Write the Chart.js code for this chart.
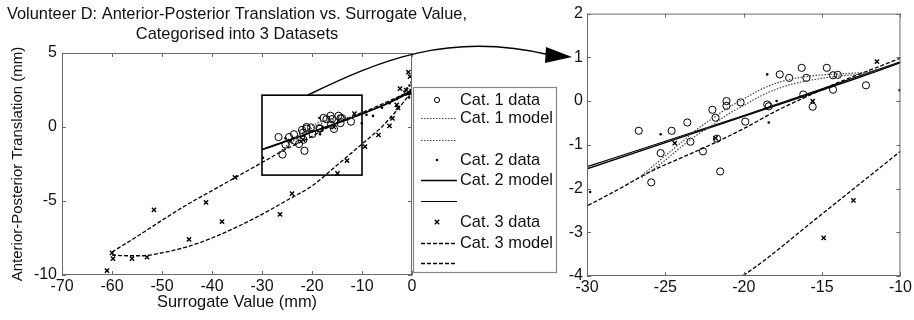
<!DOCTYPE html>
<html>
<head>
<meta charset="utf-8">
<script src="https://cdn.jsdelivr.net/npm/chart.js@4/dist/chart.umd.min.js"></script>
<style>
  html, body { margin: 0; padding: 0; background: #fff; width: 914px; height: 320px; overflow: hidden; }
  canvas { position: absolute; top: 0; }
  #c1 { left: 0; }
  #c2 { left: 560px; }
  #ov { left: 0; pointer-events: none; }
</style>
</head>
<body>
<canvas id="c1" width="560" height="320"></canvas>
<canvas id="c2" width="354" height="320"></canvas>
<canvas id="ov" width="914" height="320"></canvas>
<script>
// ---------- data ----------
const titleLines = ["Volunteer D: Anterior-Posterior Translation vs. Surrogate Value,", "Categorised into 3 Datasets"];
const xAxisTitle = "Surrogate Value (mm)";
const yAxisTitle = "Anterior-Posterior Translation (mm)";
const legendLabels = ["Cat. 1 data", "Cat. 1 model", "", "Cat. 2 data", "Cat. 2 model", "", "Cat. 3 data", "Cat. 3 model", ""];

const mainXTicks = [-70, -60, -50, -40, -30, -20, -10, 0];
const mainYTicks = [-10, -5, 0, 5];
const zoomXTicks = [-30, -25, -20, -15, -10];
const zoomYTicks = [-4, -3, -2, -1, 0, 1, 2];
const zoomBoxX = [-30, -10];
const zoomBoxY = [-3.25, 2.15];

// Cat. 1 data (circles)
const cat1X = [-26.7, -25.9, -25.3, -24.6, -23.6, -23.4, -22.6, -22.0, -21.8, -21.7, -21.5, -21.1, -21.1, -20.2, -19.9, -18.5, -18.4, -17.7, -17.1, -16.3, -16.2, -16.0, -15.6, -14.7, -14.3, -14.3, -14.0, -12.2];
const cat1Y = [-0.68, -1.86, -1.19, -0.68, -0.49, -0.93, -1.15, -0.20, -0.38, -0.86, -1.61, 0.00, -0.11, -0.03, -0.47, -0.08, -0.12, 0.61, 0.53, 0.76, 0.15, 0.53, -0.13, 0.76, 0.59, 0.26, 0.60, 0.36];
// Cat. 1 models (dotted)
const cat1ModelAX = [-26.5, -25, -24, -23, -22, -21, -20, -19, -18, -17, -16, -15, -14, -13, -12, -11.5];
const cat1ModelAY = [-1.70, -1.25, -0.95, -0.65, -0.40, -0.15, 0.05, 0.25, 0.40, 0.50, 0.56, 0.60, 0.62, 0.64, 0.67, 0.72];
const cat1ModelBX = [-26.5, -25, -24, -23, -22, -21, -20, -19, -18, -17, -16, -15, -14, -13, -12, -11.5];
const cat1ModelBY = [-1.75, -1.35, -1.05, -0.78, -0.55, -0.30, -0.10, 0.10, 0.26, 0.38, 0.46, 0.52, 0.57, 0.60, 0.64, 0.69];

// Cat. 2 data (dots)
const cat2X = [-29.8, -25.3, -18.5, -18.4, -17.9, -10.05, -9.1, -7.8, -6.0, -4.5, -3.0, -2.0, -1.5, -1.2, -1.0, -0.8, -0.6, -0.5, -0.3, -0.2, -0.1];
const cat2Y = [-2.08, -0.76, 0.61, -0.49, 0.0, 0.25, 0.82, 0.75, 1.30, 1.60, 1.90, 2.10, 2.40, 2.20, 2.60, 2.25, 2.00, 2.80, 2.50, 2.30, 3.00];
// Cat. 2 models (solid)
const cat2ModelAX = [-30, -25, -20, -15, -10, -5, 0];
const cat2ModelAY = [-1.55, -0.95, -0.35, 0.25, 0.88, 1.60, 2.50];
const cat2ModelBX = [-30, -25, -20, -15, -10, -5, 0];
const cat2ModelBY = [-1.50, -0.92, -0.33, 0.28, 0.90, 1.55, 2.40];

// Cat. 3 data (crosses)
const cat3X = [-61, -60, -59.8, -56, -53, -51.6, -44.6, -41.2, -38, -35.4, -26.4, -24.4, -24, -21.8, -15.6, -14.9, -13, -11.5, -9.4, -6.7, -4.5, -3.9, -3.05, -2.8, -2.4, -1.2, -0.73, -0.5, -0.4];
const cat3Y = [-9.7, -8.5, -8.9, -8.9, -8.8, -5.6, -7.6, -5.1, -6.4, -3.4, -5.9, -0.96, -4.5, -0.85, 0.0, -3.13, -2.27, 0.9, -1.33, -0.54, 0.07, 0.59, 1.5, 1.3, 2.6, 2.5, 3.7, 2.3, 3.4];
// Cat. 3 models (dashed)
const cat3ModelAX = [-60, -55, -50, -45, -40, -35, -30, -28, -26, -24, -22, -20, -18, -16, -14, -12, -10, -8, -6, -4, -2, 0];
const cat3ModelAY = [-8.45, -7.40, -6.30, -5.25, -4.30, -3.35, -2.40, -2.02, -1.62, -1.30, -0.98, -0.63, -0.24, 0.10, 0.42, 0.70, 0.98, 1.25, 1.55, 1.85, 2.15, 2.45];
const cat3ModelBX = [-60, -57, -54, -50, -45, -40, -35, -30, -25, -20, -15, -10, -8, -6, -4, -2, 0];
const cat3ModelBY = [-8.65, -8.70, -8.70, -8.50, -8.10, -7.50, -6.75, -5.90, -4.95, -3.98, -2.58, -1.15, -0.58, 0.02, 0.75, 1.55, 2.40];

// ---------- helpers ----------
const FONT = "'Liberation Sans', Arial, sans-serif";
const zip = (xs, ys) => xs.map((x, i) => ({ x: x, y: ys[i] }));

function makeDatasets() {
  const modelLine = (xs, ys, dash, width, color) => ({
    data: zip(xs, ys), showLine: true, pointRadius: 0, pointHoverRadius: 0,
    borderColor: color, borderWidth: width, borderDash: dash, cubicInterpolationMode: 'monotone', fill: false
  });
  return [
    modelLine(cat1ModelAX, cat1ModelAY, [1.5, 1.5], 1.2, '#444'),
    modelLine(cat1ModelBX, cat1ModelBY, [1.5, 1.5], 1.2, '#444'),
    modelLine(cat2ModelAX, cat2ModelAY, [], 1.4, '#000'),
    modelLine(cat2ModelBX, cat2ModelBY, [], 1.2, '#000'),
    modelLine(cat3ModelAX, cat3ModelAY, [4, 2], 1.3, '#000'),
    modelLine(cat3ModelBX, cat3ModelBY, [4, 2], 1.3, '#000'),
    { data: zip(cat1X, cat1Y), pointStyle: 'circle', pointRadius: 3.6, borderWidth: 1, borderColor: '#000', backgroundColor: 'rgba(0,0,0,0)', showLine: false },
    { data: zip(cat2X, cat2Y), pointStyle: 'circle', pointRadius: 1.3, borderWidth: 0, borderColor: '#000', backgroundColor: '#000', showLine: false },
    { data: zip(cat3X, cat3Y), pointStyle: 'crossRot', pointRadius: 3, borderWidth: 1.4, borderColor: '#000', backgroundColor: '#000', showLine: false }
  ];
}

const matlabAxes = {
  id: 'matlabAxes',
  afterDraw(chart) {
    const { ctx, chartArea: a, scales } = chart;
    ctx.save();
    ctx.strokeStyle = '#6a6a6a';
    ctx.lineWidth = 1;
    ctx.strokeRect(a.left + 0.5, a.top + 0.5, a.right - a.left - 1, a.bottom - a.top - 1);
    ctx.beginPath();
    scales.x.ticks.forEach(t => {
      const px = Math.round(scales.x.getPixelForValue(t.value)) + 0.5;
      ctx.moveTo(px, a.bottom); ctx.lineTo(px, a.bottom - 4);
      ctx.moveTo(px, a.top); ctx.lineTo(px, a.top + 4);
    });
    scales.y.ticks.forEach(t => {
      const py = Math.round(scales.y.getPixelForValue(t.value)) + 0.5;
      ctx.moveTo(a.left, py); ctx.lineTo(a.left + 4, py);
      ctx.moveTo(a.right, py); ctx.lineTo(a.right - 4, py);
    });
    ctx.stroke();
    ctx.restore();
  }
};

const mainExtras = {
  id: 'mainExtras',
  afterDraw(chart) {
    const { ctx, scales } = chart;
    ctx.save();
    // zoom rectangle
    const x0 = scales.x.getPixelForValue(zoomBoxX[0]), x1 = scales.x.getPixelForValue(zoomBoxX[1]);
    const y0 = scales.y.getPixelForValue(zoomBoxY[1]), y1 = scales.y.getPixelForValue(zoomBoxY[0]);
    ctx.strokeStyle = '#000'; ctx.lineWidth = 1.6;
    ctx.strokeRect(x0, y0, x1 - x0, y1 - y0);
    // title
    ctx.fillStyle = '#111';
    ctx.font = '16.4px ' + FONT;
    ctx.textAlign = 'center'; ctx.textBaseline = 'middle';
    ctx.fillText(titleLines[0], 237, 14);
    ctx.fillText(titleLines[1], 237, 34);
    // legend box
    ctx.fillStyle = '#fff';
    ctx.fillRect(413, 87, 144, 186);
    ctx.strokeStyle = '#888'; ctx.lineWidth = 1.2;
    ctx.strokeRect(413.5, 87.5, 143, 185);
    const rows = [100, 118, 140, 160, 180, 201, 222, 243, 263];
    const ds = chart.data.datasets;
    const kinds = ['m1', 'l0', 'l1', 'm2', 'l2', 'l3', 'm3', 'l4', 'l5'];
    kinds.forEach((k, i) => {
      const y = rows[i];
      if (k[0] === 'l') {
        const d = ds[+k[1]];
        ctx.save();
        ctx.strokeStyle = d.borderColor; ctx.lineWidth = d.borderWidth; ctx.setLineDash(d.borderDash);
        ctx.beginPath(); ctx.moveTo(421, y + 0.5); ctx.lineTo(457, y + 0.5); ctx.stroke();
        ctx.restore();
      } else {
        const d = ds[5 + (+k[1])];
        ctx.save();
        ctx.fillStyle = d.backgroundColor; ctx.strokeStyle = d.borderColor; ctx.lineWidth = d.borderWidth;
        ctx.beginPath();
        if (d.pointStyle === 'circle') {
          ctx.arc(437, y, d.pointRadius > 2 ? 2.6 : 1.3, 0, Math.PI * 2);
          if (d.borderWidth > 0) ctx.stroke(); else ctx.fill();
        } else {
          const r = 2.2;
          ctx.moveTo(437 - r, y - r); ctx.lineTo(437 + r, y + r);
          ctx.moveTo(437 + r, y - r); ctx.lineTo(437 - r, y + r);
          ctx.stroke();
        }
        ctx.restore();
      }
      if (legendLabels[i]) {
        ctx.fillStyle = '#111';
        ctx.font = '16.4px ' + FONT;
        ctx.textAlign = 'left'; ctx.textBaseline = 'middle';
        ctx.fillText(legendLabels[i], 460, y);
      }
    });
    ctx.restore();
  }
};

function tickSetter(values) {
  return s => { s.ticks = values.map(v => ({ value: v })); };
}

const common = {
  responsive: false, animation: false, events: [],
  plugins: { legend: { display: false }, tooltip: { enabled: false } }
};

new Chart(document.getElementById('c1'), {
  type: 'scatter',
  data: { datasets: makeDatasets() },
  options: Object.assign({}, common, {
    layout: { padding: { top: 53, right: 148, bottom: 0, left: 0 } },
    scales: {
      x: {
        min: -70, max: 0,
        afterBuildTicks: tickSetter(mainXTicks),
        afterFit: s => { s.height = 45; },
        grid: { display: false, drawTicks: false },
        border: { display: false },
        ticks: { padding: 2, color: '#111', font: { family: FONT, size: 16 }, maxRotation: 0, autoSkip: false },
        title: { display: true, text: xAxisTitle, color: '#111', font: { family: FONT, size: 16.4 }, padding: { top: 0, bottom: 8 } }
      },
      y: {
        min: -10, max: 5,
        afterBuildTicks: tickSetter(mainYTicks),
        afterFit: s => { s.width = 62; },
        grid: { display: false, drawTicks: false },
        border: { display: false },
        ticks: { padding: 5, color: '#111', font: { family: FONT, size: 16 }, autoSkip: false },
        title: { display: true, text: yAxisTitle, color: '#111', font: { family: FONT, size: 15 }, padding: { top: 9, bottom: 0 } }
      }
    }
  }),
  plugins: [matlabAxes, mainExtras]
});

new Chart(document.getElementById('c2'), {
  type: 'scatter',
  data: { datasets: makeDatasets() },
  options: Object.assign({}, common, {
    layout: { padding: { top: 12, right: 9, bottom: 0, left: 0 } },
    scales: {
      x: {
        min: -30, max: -10,
        afterBuildTicks: tickSetter(zoomXTicks),
        afterFit: s => { s.height = 44; },
        grid: { display: false, drawTicks: false },
        border: { display: false },
        ticks: { padding: 2, color: '#111', font: { family: FONT, size: 16 }, maxRotation: 0, autoSkip: false }
      },
      y: {
        min: -4, max: 2,
        afterBuildTicks: tickSetter(zoomYTicks),
        afterFit: s => { s.width = 27; },
        grid: { display: false, drawTicks: false },
        border: { display: false },
        ticks: { padding: 4, color: '#111', font: { family: FONT, size: 16 }, autoSkip: false }
      }
    }
  }),
  plugins: [matlabAxes]
});

// arrow from zoom box to inset
(function () {
  const ctx = document.getElementById('ov').getContext('2d');
  ctx.strokeStyle = '#000'; ctx.lineWidth = 1.5;
  ctx.beginPath();
  ctx.moveTo(308, 95);
  ctx.bezierCurveTo(380, 60, 450, 31, 550, 55);
  ctx.stroke();
  ctx.fillStyle = '#000';
  ctx.beginPath();
  ctx.moveTo(572, 57); ctx.lineTo(546, 47); ctx.lineTo(545, 63); ctx.closePath();
  ctx.fill();
})();
</script>
</body>
</html>
